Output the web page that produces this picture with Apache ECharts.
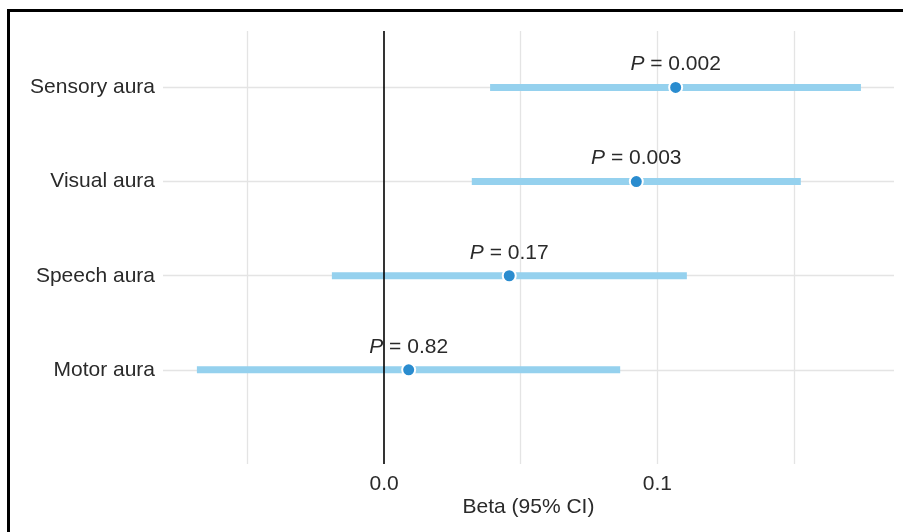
<!DOCTYPE html>
<html>
<head>
<meta charset="utf-8">
<script src="https://cdn.jsdelivr.net/npm/echarts@6/dist/echarts.min.js"></script>
<style>
html,body{margin:0;padding:0;background:#fff;}
#chart{position:absolute;left:0;top:0;width:903px;height:532px;}
#frame{position:absolute;left:7px;top:9px;width:1000px;height:700px;border-left:3px solid #000;border-top:3px solid #000;pointer-events:none;}
</style>
</head>
<body>
<div id="chart"></div>
<div id="frame"></div>
<script>
// Data (top to bottom)
const categories = ['Sensory aura', 'Visual aura', 'Speech aura', 'Motor aura'];
const beta = [0.1067, 0.0923, 0.0458, 0.0090];
const ciLow = [0.0388, 0.0321, -0.0191, -0.0685];
const ciHigh = [0.1745, 0.1525, 0.1108, 0.0864];
const pLabels = ['0.002', '0.003', '0.17', '0.82'];
const xGridValues = [-0.05, 0.05, 0.1, 0.15];
const xTickLabels = [0, 0.1];

const n = categories.length;
const rowPos = categories.map((c, i) => n - i);

const textColor = '#2a2a2a';
const fontFamily = '"Liberation Sans", Arial, Helvetica, sans-serif';
const fs = 21;

const chart = echarts.init(document.getElementById('chart'));
chart.setOption({
  backgroundColor: '#fff',
  animation: false,
  grid: { left: 163, right: 9, top: 31, bottom: 68 },
  xAxis: {
    type: 'value', min: -0.0809, max: 0.1866,
    axisLine: { show: false }, axisTick: { show: false }, splitLine: { show: false },
    axisLabel: { customValues: xTickLabels, formatter: v => v.toFixed(1), color: textColor, fontSize: fs, fontFamily, margin: 10 },
    name: 'Beta (95% CI)', nameLocation: 'middle', nameGap: 33, nameMoveOverlap: false,
    nameTextStyle: { color: textColor, fontSize: fs, fontFamily }
  },
  yAxis: {
    type: 'value', min: 0, max: 4.6,
    axisLine: { show: false }, axisTick: { show: false }, splitLine: { show: false },
    axisLabel: { customValues: rowPos, formatter: v => categories[n - v], color: textColor, fontSize: fs, fontFamily, margin: 8 }
  },
  series: [
    {
      type: 'line', data: [], silent: true, z: 1,
      markLine: {
        z: 1, silent: true, symbol: 'none', label: { show: false },
        lineStyle: { color: '#e4e4e4', width: 1.3, type: 'solid' },
        data: xGridValues.map(v => ({ xAxis: v })).concat(rowPos.map(v => ({ yAxis: v })))
      }
    },
    {
      type: 'custom', z: 2, silent: true,
      data: categories.map((c, i) => [ciLow[i], ciHigh[i], rowPos[i]]),
      renderItem: (params, api) => {
        const p1 = api.coord([api.value(0), api.value(2)]);
        const p2 = api.coord([api.value(1), api.value(2)]);
        return { type: 'line', shape: { x1: p1[0], y1: p1[1], x2: p2[0], y2: p2[1] },
                 style: { stroke: '#95d1ee', lineWidth: 7, lineCap: 'butt' } };
      },
      encode: { x: [0, 1], y: 2 }
    },
    {
      type: 'line', data: [], silent: true, z: 3,
      markLine: {
        z: 3, silent: true, symbol: 'none', label: { show: false },
        lineStyle: { color: '#000', width: 1.6, type: 'solid' },
        data: [{ xAxis: 0 }]
      }
    },
    {
      type: 'scatter', z: 4,
      data: categories.map((c, i) => [beta[i], rowPos[i]]),
      symbol: 'circle', symbolSize: 13,
      itemStyle: { color: '#2a8ccf', borderColor: '#fff', borderWidth: 2, opacity: 1 },
      label: {
        show: true, position: 'top', distance: 5,
        formatter: p => '{i|P} = ' + pLabels[p.dataIndex],
        color: textColor, fontSize: fs, fontFamily,
        rich: { i: { fontStyle: 'italic', fontSize: fs, fontFamily, color: textColor } }
      }
    }
  ]
});
</script>
</body>
</html>
